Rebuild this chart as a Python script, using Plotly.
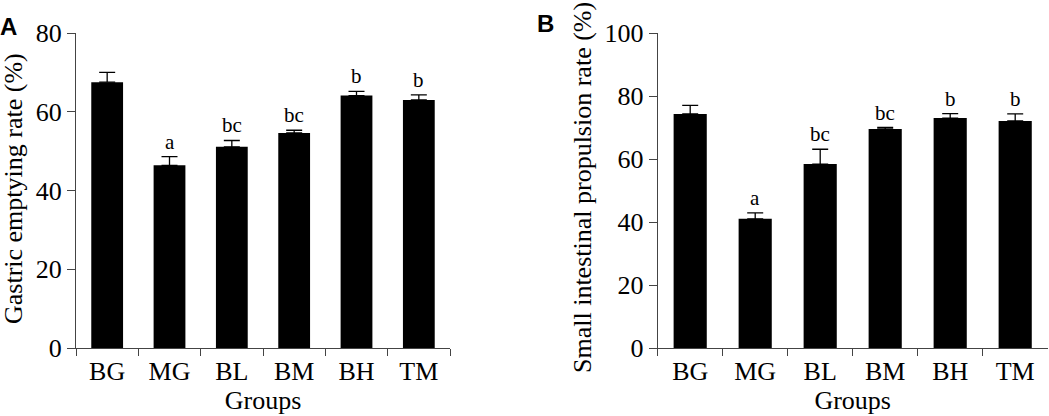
import plotly.graph_objects as go

# datos
grupos = ['BG', 'MG', 'BL', 'BM', 'BH', 'TM']

gastric_mean = [67.5, 46.4, 51.1, 54.6, 64.1, 63.0]
gastric_err = [2.5, 2.2, 1.6, 0.7, 1.1, 1.3]
gastric_sig = ['', 'a', 'bc', 'bc', 'b', 'b']

intestinal_mean = [74.3, 41.0, 58.4, 69.5, 73.0, 72.1]
intestinal_err = [2.7, 1.9, 4.7, 0.5, 1.4, 2.2]
intestinal_sig = ['', 'a', 'bc', 'bc', 'b', 'b']

W, H = 1049, 416
serif = 'Liberation Serif'
axis_col = '#444444'

fig = go.Figure()

# barras con error solo hacia arriba
for mean, err, xa, ya in [(gastric_mean, gastric_err, 'x', 'y'),
                          (intestinal_mean, intestinal_err, 'x2', 'y2')]:
    fig.add_trace(go.Bar(
        x=grupos, y=mean, xaxis=xa, yaxis=ya,
        marker=dict(color='black', line=dict(width=0)),
        error_y=dict(type='data', array=err, arrayminus=[0] * len(err),
                     symmetric=False, color='black', thickness=1.3, width=8),
        showlegend=False))

# letras de significancia
for mean, err, sig, xa, ya in [(gastric_mean, gastric_err, gastric_sig, 'x', 'y'),
                               (intestinal_mean, intestinal_err, intestinal_sig, 'x2', 'y2')]:
    for g, m, e, s in zip(grupos, mean, err, sig):
        if s:
            fig.add_annotation(x=g, y=m + e, xref=xa, yref=ya, text=s,
                               showarrow=False, yanchor='bottom', yshift=1,
                               font=dict(family=serif, size=21, color='black'))

ydom = [(H - 348) / H, (H - 33) / H]
eje_x = dict(type='category', showline=True, linecolor=axis_col, linewidth=1,
             ticks='outside', tickson='boundaries', ticklen=7, tickcolor=axis_col,
             showgrid=False, zeroline=False, automargin=False,
             tickfont=dict(family=serif, size=26, color='black'),
             title=dict(text='Groups', standoff=0, font=dict(family=serif, size=26, color='black')))
eje_y = dict(showline=True, linecolor=axis_col, linewidth=1, ticks='outside',
             ticklen=8, tickcolor=axis_col, showgrid=False, zeroline=False,
             automargin=False,
             tickfont=dict(family=serif, size=26, color='black'), domain=ydom)

fig.update_layout(
    width=W, height=H, plot_bgcolor='white', paper_bgcolor='white',
    margin=dict(l=0, r=0, t=0, b=0, autoexpand=False), bargap=0.49,
    xaxis=dict(eje_x, domain=[76 / W, 450 / W], anchor='y'),
    xaxis2=dict(eje_x, domain=[657.7 / W, 1047.7 / W], anchor='y2'),
    yaxis=dict(eje_y, range=[0, 80], dtick=20, anchor='x'),
    yaxis2=dict(eje_y, range=[0, 100], dtick=20, anchor='x2'),
)

# titulos de ejes y etiquetas de panel
fig.add_annotation(x=13 / W, y=(H - 189) / H, xref='paper', yref='paper',
                   xanchor='center', yanchor='middle',
                   text='Gastric emptying rate (%)', textangle=-90, showarrow=False,
                   font=dict(family=serif, size=26, color='black'))
fig.add_annotation(x=583 / W, y=(H - 188) / H, xref='paper', yref='paper',
                   xanchor='center', yanchor='middle',
                   text='Small intestinal propulsion rate (%)', textangle=-90, showarrow=False,
                   font=dict(family=serif, size=26, color='black'))
fig.add_annotation(x=-2 / W, y=(H - 26) / H, xref='paper', yref='paper', text='<b>A</b>',
                   showarrow=False, xanchor='left', yanchor='middle',
                   font=dict(family='Liberation Sans', size=24, color='black'))
fig.add_annotation(x=535 / W, y=(H - 23) / H, xref='paper', yref='paper', text='<b>B</b>',
                   showarrow=False, xanchor='left', yanchor='middle',
                   font=dict(family='Liberation Sans', size=24, color='black'))

# quitar el margen del body para que la figura ocupe toda la ventana
fig.write_html("out.html", config={'displayModeBar': False},
               post_script="document.body.style.margin='0';")
